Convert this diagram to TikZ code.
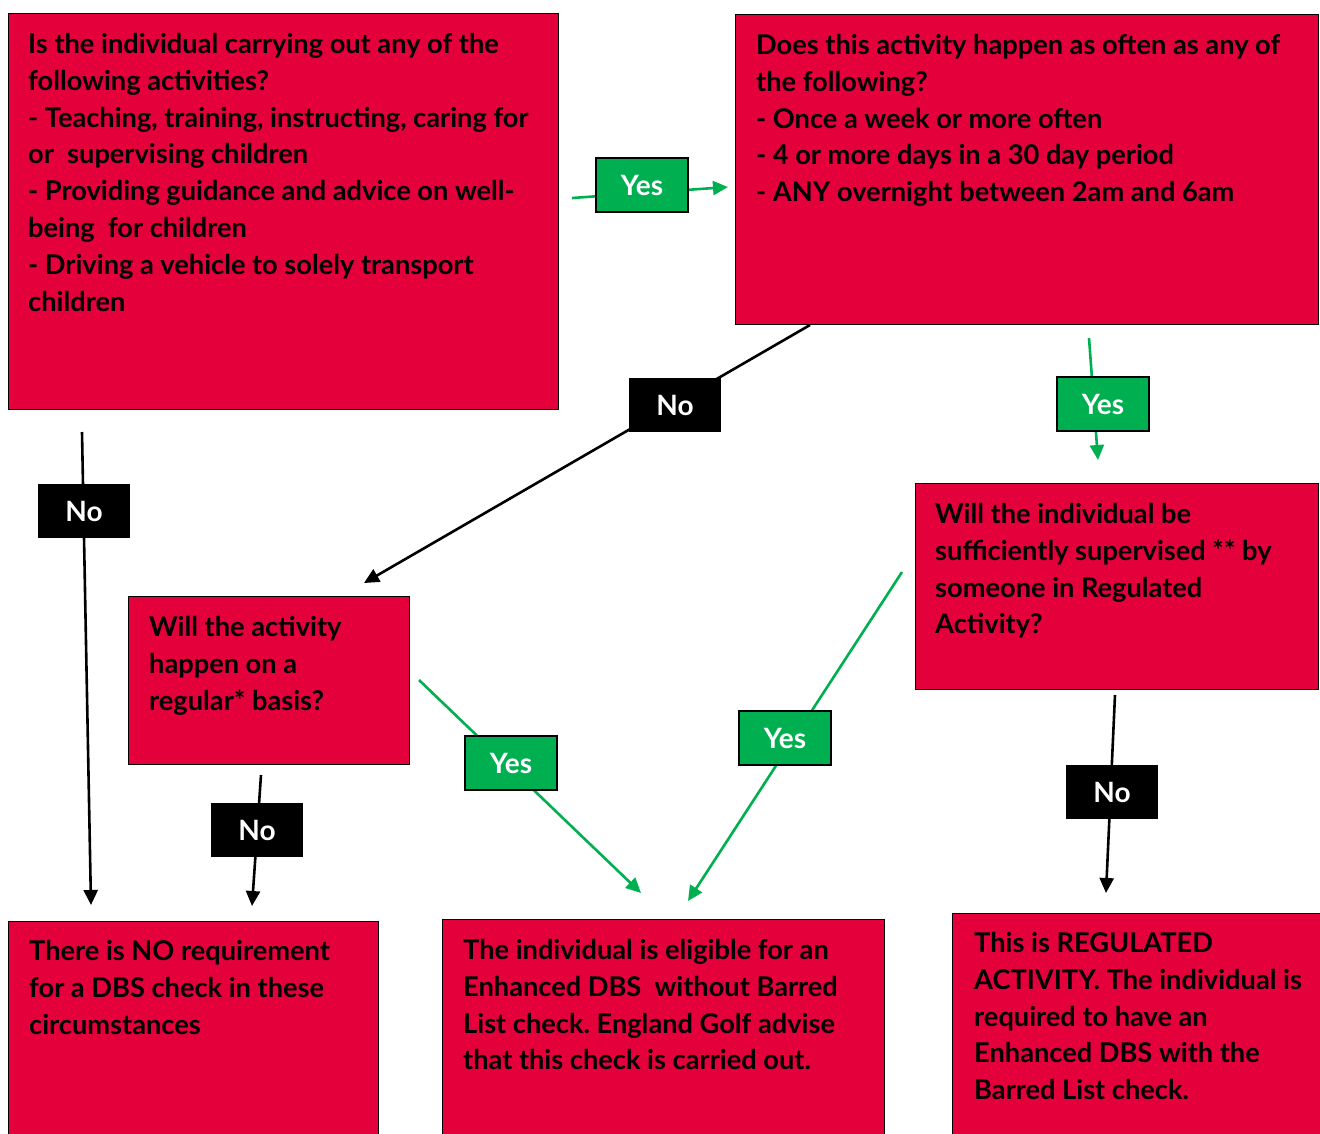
\documentclass[tikz,border=0pt]{standalone}
\usepackage{fontspec}
\setmainfont{Lato}
\frenchspacing
\usetikzlibrary{arrows.meta,positioning}
\definecolor{boxred}{HTML}{E4003B}
\definecolor{yesgreen}{HTML}{00B050}
\tikzset{
  qbox/.style={draw=black, line width=1.2pt, fill=boxred, anchor=north west, inner sep=0pt},
  qtext/.style={anchor=north west, align=left, inner sep=0pt,
    font=\bfseries\fontsize{27.2}{36.8}\selectfont},
  lbl/.style={minimum width=92pt, minimum height=54pt, inner sep=0pt, text=white,
    font=\bfseries\fontsize{28}{30}\selectfont},
  yesbox/.style={lbl, draw=black, line width=1.6pt, fill=yesgreen},
  nobox/.style={lbl, fill=black},
  yesline/.style={draw=yesgreen, line width=2.6pt, -{Triangle[length=15pt,width=14pt]}},
  noline/.style={draw=black, line width=2.6pt, -{Triangle[length=15pt,width=14pt]}}
}
\begin{document}
\begin{tikzpicture}[x=1pt,y=-1pt]
\useasboundingbox[fill=white] (0,0) rectangle (1320,1133);

% question boxes
\node[qbox, minimum width=550pt, minimum height=396pt] (qa) at (8,13) {};
\node[qbox, minimum width=583pt, minimum height=310pt] (qb) at (735,14) {};
\node[qbox, minimum width=403pt, minimum height=206pt] (qc) at (915,483) {};
\node[qbox, minimum width=281pt, minimum height=168pt] (qd) at (128,596) {};
% answer boxes
\node[qbox, minimum width=370pt, minimum height=240pt] (ra) at (8,921) {};
\node[qbox, minimum width=442pt, minimum height=240pt] (rb) at (442,919) {};
\node[qbox, minimum width=380pt, minimum height=240pt] (rc) at (952,913) {};

\node[qtext] (qatext) at (28,33) {Is the individual carrying out any of the\\
  following activities?\\
  - Teaching, training, instructing, caring for\\
  or\ \ supervising children\\
  - Providing guidance and advice on well-\\
  being\ \ for children\\
  - Driving a vehicle to solely transport\\
  children};
\node[qtext] (qbtext) at (756,34) {Does this activity happen as often as any of\\
  the following?\\
  - Once a week or more often\\
  - 4 or more days in a 30 day period\\
  - ANY overnight between 2am and 6am};
\node[qtext] (qctext) at (935,503) {Will the individual be\\
  sufficiently supervised ** by\\
  someone in Regulated\\
  Activity?};
\node[qtext] (qdtext) at (149,616) {Will the activity\\
  happen on a\\
  regular* basis?};
\node[qtext] (ratext) at (29,940) {There is NO requirement\\
  for a DBS check in these\\
  circumstances};
\node[qtext] (rbtext) at (463,939) {The individual is eligible for an\\
  Enhanced DBS\ \ without Barred\\
  List check. England Golf advise\\
  that this check is carried out.};
\node[qtext] (rctext) at (974,932) {This is REGULATED\\
  ACTIVITY. The individual is\\
  required to have an\\
  Enhanced DBS with the\\
  Barred List check.};

% connector ends
\coordinate (y1s) at (572,198);  \coordinate (y1e) at (728,187);
\coordinate (n1s) at (82,432);   \coordinate (n1e) at (91,905);
\coordinate (n2s) at (810,325);  \coordinate (n2e) at (364,583);
\coordinate (y2s) at (1089,338); \coordinate (y2e) at (1098,460);
\coordinate (y3s) at (419,680);  \coordinate (y3e) at (641,893);
\coordinate (y4s) at (902,572);  \coordinate (y4e) at (688,901);
\coordinate (n3s) at (261,775);  \coordinate (n3e) at (252,906);
\coordinate (n4s) at (1115,695); \coordinate (n4e) at (1106,893);

\draw[yesline] (y1s) -- (y1e);
\draw[noline]  (n1s) -- (n1e);
\draw[noline]  (n2s) -- (n2e);
\draw[yesline] (y2s) -- (y2e);
\draw[yesline] (y3s) -- (y3e);
\draw[yesline] (y4s) -- (y4e);
\draw[noline]  (n3s) -- (n3e);
\draw[noline]  (n4s) -- (n4e);

% labels on top
\node[yesbox] (yes1) at (642,185) {Yes};
\node[nobox]  (no1)  at (84,511)  {No};
\node[nobox]  (no2)  at (675,405) {No};
\node[yesbox] (yes2) at (1103,404) {Yes};
\node[yesbox] (yes3) at (511,763) {Yes};
\node[yesbox] (yes4) at (785,738) {Yes};
\node[nobox]  (no3)  at (257,830) {No};
\node[nobox]  (no4)  at (1112,792) {No};
\end{tikzpicture}
\end{document}
